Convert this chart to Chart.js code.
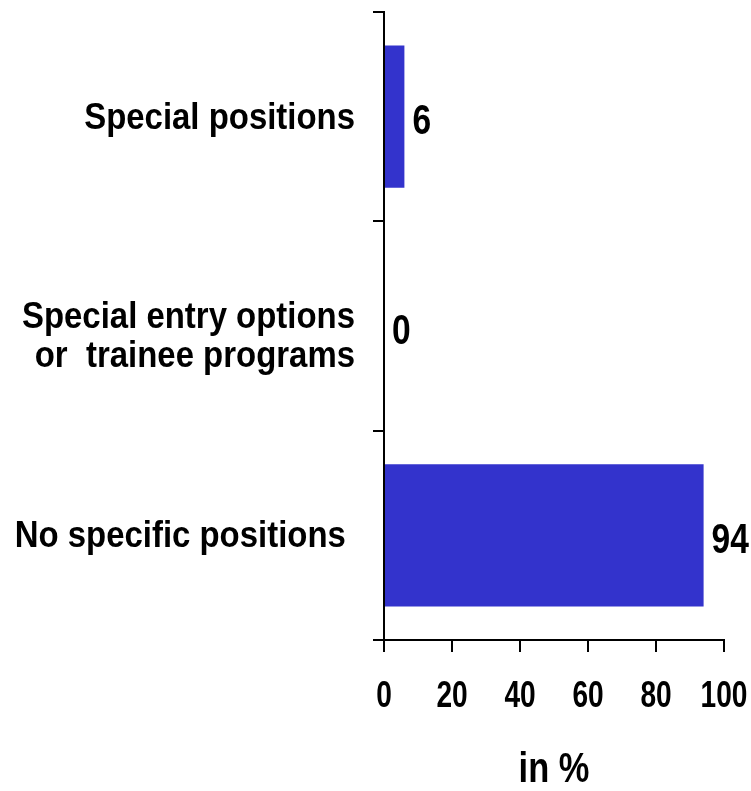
<!DOCTYPE html>
<html>
<head>
<meta charset="utf-8">
<script src="https://cdn.jsdelivr.net/npm/chart.js@4/dist/chart.umd.min.js"></script>
<style>
  html, body { margin: 0; padding: 0; background: #fff; }
  canvas { display: block; }
</style>
</head>
<body>
<canvas id="popChart" width="751" height="791"></canvas>
<script>
// data
const categories = [
    ['Special positions'],
    ['Special entry options', 'or  trainee programs'],
    ['No specific positions ']
];
const values = [6, 0, 94];
const xTicks = [0, 20, 40, 60, 80, 100];
const axisTitle = 'in %';

const FONT = "'Liberation Sans', Arial, sans-serif";
const barColor = '#3333CC';

// the picture uses a narrow bold face, so text is squeezed sideways
function narrowText(ctx, text, x, y, size, squeeze, align) {
    ctx.save()
    ctx.font = 'bold ' + size + 'px ' + FONT
    ctx.textAlign = align
    ctx.textBaseline = 'alphabetic'
    ctx.translate(x, y)
    ctx.scale(squeeze, 1)
    ctx.fillText(text, 0, 0)
    ctx.restore()
}

const textLayer = {
    id: 'textLayer',
    afterDraw(chart) {
        const ctx = chart.ctx
        const xs = chart.scales.x
        const ys = chart.scales.y
        ctx.fillStyle = '#000'

        // category labels
        categories.forEach((lines, i) => {
            const cy = ys.getPixelForValue(i)
            lines.forEach((line, k) => {
                const y = cy + 12 - 10 * (lines.length - 1) + k * 39
                narrowText(ctx, line, 355, y, 37, 0.89, 'right')
            })
        })

        // x tick labels
        xTicks.forEach(v => {
            narrowText(ctx, String(v), xs.getPixelForValue(v), 707, 36, 0.78, 'center')
        })

        // axis title
        narrowText(ctx, axisTitle, (xs.left + xs.right) / 2, 782, 42, 0.82, 'center')

        // values next to bars
        chart.getDatasetMeta(0).data.forEach((bar, i) => {
            narrowText(ctx, String(values[i]), bar.x + 8, bar.y + 17.5, 43, 0.78, 'left')
        })
    }
}

const config = {
    type: 'bar',
    data: {
        labels: categories,
        datasets: [{
            data: values,
            backgroundColor: barColor,
            borderWidth: 0,
            categoryPercentage: 1,
            barPercentage: 0.68
        }]
    },
    options: {
        indexAxis: 'y',
        responsive: false,
        animation: false,
        devicePixelRatio: 1,
        layout: {
            padding: { left: 0, right: 27, top: 12, bottom: 0 }
        },
        plugins: {
            legend: { display: false },
            tooltip: { enabled: false }
        },
        scales: {
            x: {
                type: 'linear',
                min: 0,
                max: 100,
                afterBuildTicks: (scale) => {
                    scale.ticks = xTicks.map(v => ({ value: v }))
                },
                afterFit: (scale) => { scale.height = 151 },
                border: { display: true, color: '#000', width: 2 },
                grid: {
                    drawOnChartArea: false,
                    color: '#000',
                    lineWidth: 2,
                    tickLength: 12
                },
                ticks: { display: false }
            },
            y: {
                type: 'category',
                offset: true,
                afterFit: (scale) => { scale.width = 384 },
                border: { display: true, color: '#000', width: 2 },
                grid: {
                    offset: true,
                    drawOnChartArea: false,
                    color: '#000',
                    lineWidth: 2,
                    tickLength: 11
                },
                ticks: { display: false }
            }
        }
    },
    plugins: [textLayer]
}

new Chart(document.getElementById('popChart').getContext('2d'), config)
</script>
</body>
</html>
